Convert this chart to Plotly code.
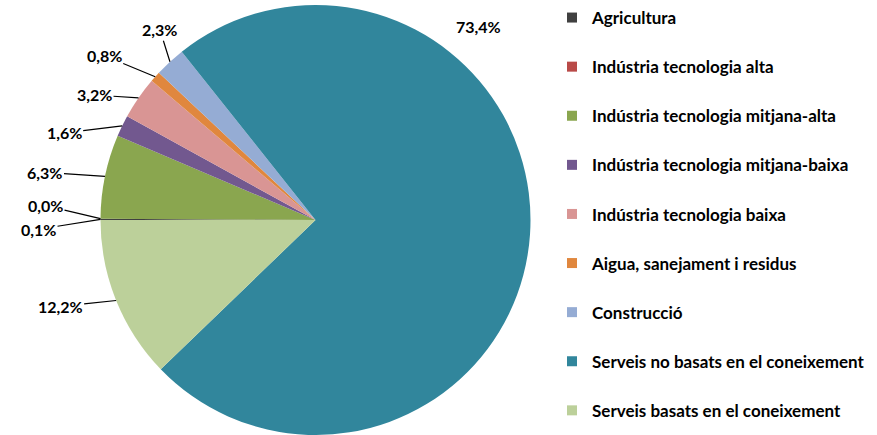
import math
import plotly.graph_objects as go

# Data
sectors = [
    "Agricultura",
    "Indústria tecnologia alta",
    "Indústria tecnologia mitjana-alta",
    "Indústria tecnologia mitjana-baixa",
    "Indústria tecnologia baixa",
    "Aigua, sanejament i residus",
    "Construcció",
    "Serveis no basats en el coneixement",
    "Serveis basats en el coneixement",
]
shares = [0.1, 0.0, 6.3, 1.6, 3.2, 0.8, 2.3, 73.4, 12.2]
colors = ["#404040", "#b94a48", "#8aa64f", "#72588f", "#d99594",
          "#e0873e", "#95acd4", "#31869c", "#bcd09a"]

# label offsets from slice edge (px), like Excel placed them
label_offsets = [(-62, 10), (-55, -13), (-60, -4), (-58, 7), (-44, -3),
                 (-51, -21), (-10, -32), (-52, -208), (-56, 6)]

W, H = 877, 435
cx, top = 315.5, 5
r = (H - top) / 2
cy = top + r
rotation = 270
FONT = "Lato"

fig = go.Figure()

fig.add_trace(go.Pie(
    labels=sectors,
    values=shares,
    sort=False,
    direction="clockwise",
    rotation=rotation,
    marker=dict(colors=colors, line=dict(width=0)),
    textinfo="none",
    hoverinfo="label+percent",
    showlegend=False,
    domain=dict(x=[(cx - r) / W, (cx + r) / W], y=[0, (H - top) / H]),
))

# legend entries (one group each so the gap can be set)
for name, col in zip(sectors, colors):
    fig.add_trace(go.Scatter(
        x=[None], y=[None], mode="markers", name=name, legendgroup=name,
        marker=dict(symbol="square", size=10, color=col),
    ))

# outside data labels with leader lines
total = sum(shares)
cum = 0
for v, (ax, ay) in zip(shares, label_offsets):
    mid = rotation + 360 * (cum + v / 2) / total
    cum += v
    a = math.radians(mid)
    px = cx + r * math.sin(a)
    py = cy - r * math.cos(a)
    fig.add_annotation(
        x=px / W, y=1 - py / H, xref="paper", yref="paper",
        text=f"{v:.1f}".replace(".", ",") + "%",
        showarrow=True, arrowhead=0, arrowwidth=1.2,
        arrowcolor="black" if abs(ay) < 100 else "rgba(0,0,0,0)",
        ax=ax, ay=ay,
        font=dict(family=FONT, size=16, color="black", weight="bold"),
    )

fig.update_layout(
    width=W, height=H,
    margin=dict(l=0, r=0, t=0, b=0, autoexpand=False),
    paper_bgcolor="white", plot_bgcolor="white",
    xaxis=dict(visible=False), yaxis=dict(visible=False),
    legend=dict(
        x=552 / W, y=1, xanchor="left", yanchor="top",
        font=dict(family=FONT, size=17, color="black", weight="bold"),
        tracegroupgap=24, itemclick=False,
    ),
)

# page body has a default 8px margin; drop it so the chart sits at 0,0
fig.write_html("out.html", config={"displayModeBar": False},
               post_script="document.body.style.margin='0';")
